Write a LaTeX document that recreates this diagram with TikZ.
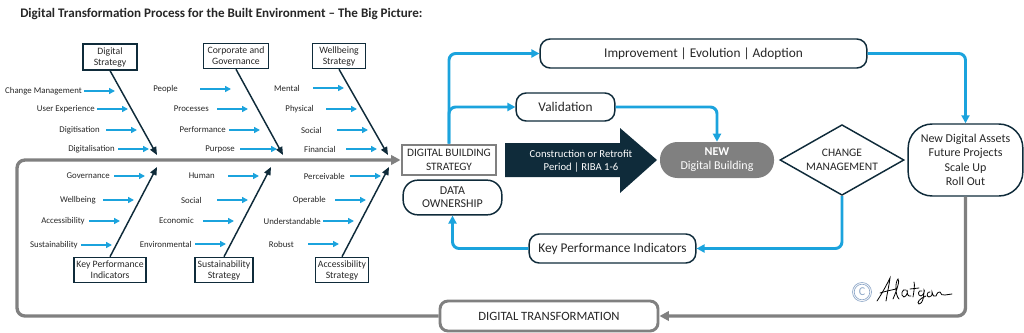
\documentclass[tikz,border=0pt]{standalone}
\usepackage{fontspec}
\setmainfont{Carlito}
\usetikzlibrary{arrows.meta,shapes.geometric,calc}
\definecolor{bl}{HTML}{1BA3DD}
\definecolor{nv}{HTML}{0F2B3A}
\definecolor{gr}{HTML}{808080}
\definecolor{tx}{HTML}{262626}
\definecolor{cp}{HTML}{8FA8C8}
\begin{document}
\begin{tikzpicture}[x=0.75pt,y=-0.75pt,
  lbl/.style={font=\fontsize{6.6}{7.5}\selectfont, text=tx, inner sep=0pt, anchor=east},
  barrow/.style={draw=bl, line width=1.5pt, -{Triangle[length=4.5pt,width=4.5pt]}},
  darrow/.style={draw=nv, line width=1.1pt, -{Triangle[length=6pt,width=5pt]}},
  fbox/.style={draw=nv, line width=0.9pt, font=\fontsize{7.3}{8.2}\selectfont, text=tx, align=center, inner sep=0pt, minimum height=19pt},
  rbox/.style={draw=nv, line width=1.1pt, rounded corners=7.5pt, text=tx, align=center, inner sep=0pt, font=\fontsize{10}{12}\selectfont},
  gbox/.style={draw=gr, line width=2.2pt, text=tx, align=center, inner sep=0pt},
  bline/.style={draw=bl, line width=2.2pt, rounded corners=5pt, -{Triangle[length=6pt,width=6pt]}},
  gline/.style={draw=gr, line width=2.5pt, rounded corners=6pt, -{Triangle[length=7pt,width=7pt]}}
]
\useasboundingbox (0,0) rectangle (1024,332);

% title
\node[anchor=west, inner sep=0pt, font=\fontsize{9.8}{10}\bfseries, text=tx] (title) at (20,14)
  {Digital Transformation Process for the Built Environment -- The Big Picture:};

% fishbone boxes
\node[fbox, minimum width=40.5pt, minimum height=19.5pt] (ds) at (110,57) {Digital\\Strategy};
\node[fbox, minimum width=48.75pt] (cg) at (236,56) {Corporate and\\Governance};
\node[fbox, minimum width=39.75pt] (ws) at (339,56) {Wellbeing\\Strategy};
\node[fbox, minimum width=54pt] (kpif) at (110,270) {Key Performance\\Indicators};
\node[fbox, minimum width=43.5pt] (ss) at (224,270) {Sustainability\\Strategy};
\node[fbox, minimum width=39.75pt] (as) at (342,270) {Accessibility\\Strategy};

% diagonal bones
\coordinate (dse) at (157,155);
\coordinate (cge) at (283,155);
\coordinate (wse) at (388,155);
\coordinate (kpe) at (157,167);
\coordinate (sse) at (271,167);
\coordinate (ase) at (389,167);
\draw[darrow] (ds.south) -- (dse);
\draw[darrow] (cg.south) -- (cge);
\draw[darrow] (ws.south) -- (wse);
\draw[darrow] (kpif.north) -- (kpe);
\draw[darrow] (ss.north) -- (sse);
\draw[darrow] (as.north) -- (ase);

% small labelled arrows
\foreach \n/\t/\tx/\ax/\bx/\y in {
  1/Change Management/82/84/115/91,
  2/User Experience/95/97/128/109,
  3/Digitisation/100/106/137/130,
  4/Digitalisation/115/118/149/149,
  5/People/178/200/231/89,
  6/Processes/209/217/248/109,
  7/Performance/226/229/260/130,
  8/Purpose/235/240/277/149,
  9/Mental/300/313/344/88,
  10/Physical/314/326/357/109,
  11/Social/322/337/368/130,
  12/Financial/336/346/377/149,
  13/Governance/110/114/145/176,
  14/Wellbeing/96/103/134/200,
  15/Accessibility/85/89/120/221,
  16/Sustainability/78/81/112/245,
  17/Human/215/228/259/176,
  18/Social/202/217/248/200,
  19/Economic/194/203/234/221,
  20/Environmental/192/195/226/244,
  21/Perceivable/345/350/381/176,
  22/Operable/326/335/366/200,
  23/Understandable/321/323/354/221,
  24/Robust/294/308/339/244}{
  \node[lbl] (lab\n) at (\tx,\y) {\t};
  \coordinate (as\n) at (\ax,\y);
  \coordinate (ae\n) at (\bx,\y);
  \draw[barrow] (as\n) -- (ae\n);
}

% main nodes
\node[gbox, minimum width=70.5pt, minimum height=22.5pt, font=\fontsize{8.5}{10}\selectfont] (dbs) at (449,160) {DIGITAL BUILDING\\STRATEGY};
\node[rbox, rounded corners=11pt, minimum width=74pt, minimum height=26pt, font=\fontsize{9}{10}\selectfont] (do) at (452.5,197.5) {DATA\\OWNERSHIP};
\node[rbox, minimum width=245pt, minimum height=21.75pt] (imp) at (703.5,53.5) {Improvement \textbar{} Evolution \textbar{} Adoption};
\node[rbox, minimum width=74pt, minimum height=21pt] (val) at (565.5,107) {Validation};
\node[rbox, minimum width=125pt, minimum height=21.75pt] (kpi) at (612.5,248.5) {Key Performance Indicators};
\node[rbox, rounded corners=18pt, minimum width=86pt, minimum height=54pt, font=\fontsize{9}{10.7}\selectfont] (nda) at (965.5,160) {New Digital Assets\\Future Projects\\Scale Up\\Roll Out};
\node[draw=none, fill=gr, rounded corners=13pt, minimum width=85.5pt, minimum height=27pt, inner sep=0pt, text=white, align=center, font=\fontsize{9}{10.5}\selectfont] (new) at (717,160) {\textbf{NEW}\\Digital Building};
\node[diamond, draw=nv, line width=1.1pt, aspect=1.75, inner sep=0pt, minimum width=93pt, minimum height=53pt, text=tx, align=center, font=\fontsize{8.6}{10.5}\selectfont] (cm) at (842,160) {CHANGE\\MANAGEMENT};
\node[gbox, rounded corners=6pt, minimum width=163.5pt, minimum height=22.5pt, font=\fontsize{9.5}{11}\selectfont] (dt) at (549,316) {DIGITAL TRANSFORMATION};

% big arrow
\fill[nv] (505,143) -- (620,143) -- (620,128) -- (657,160) -- (620,193) -- (620,177) -- (505,177) -- cycle;
\node[text=white, align=center, inner sep=0pt, font=\fontsize{8}{9.75}\selectfont] (cons) at (581,161) {Construction or Retrofit\\Period \textbar{} RIBA 1-6};

% blue connectors
\draw[bline] (dbs.north) |- (imp.west);
\draw[bline] (dbs.north) |- (val.west);
\draw[bline] (val.east) -| (new.north);
\draw[bline] (imp.east) -| (nda.north);
\draw[bline] (cm.south) |- (kpi.east);
\draw[bline] (kpi.west) -| (do.south);

% grey loop
\coordinate (lc) at (17,240);
\draw[gline] (dt.west) -| (lc) |- (dbs.west);
\draw[gline] (nda.south) |- (dt.east);

% copyright and signature
\draw[cp, line width=0.5pt] (862,292) circle (9.5);
\draw[cp, line width=0.5pt] (862,292) circle (7.8);
\node[text=cp, inner sep=0pt, font=\fontsize{9}{9}\selectfont] (cpc) at (862,292) {C};
\begin{scope}[line width=0.6pt, draw=black, line cap=round]
\draw (877,301) .. controls (883,292) and (888,282) .. (890,278) .. controls (889,286) and (887,294) .. (886,301);
\draw (880,293) .. controls (886,291) and (892,290) .. (896,289);
\draw (893,299) .. controls (897,290) and (900,280) .. (898,279) .. controls (895,282) and (895,295) .. (899,299);
\draw (906,290) .. controls (902,288) and (900,296) .. (904,297) .. controls (907,296) and (908,292) .. (907,290) .. controls (907,294) and (908,297) .. (911,296);
\draw (913,297) .. controls (914,291) and (915,285) .. (914,282);
\draw (910,289) -- (919,288);
\draw (922,291) .. controls (918,289) and (917,296) .. (921,296) .. controls (924,295) and (925,290) .. (924,290) .. controls (924,296) and (923,304) .. (919,304) .. controls (916,303) and (920,298) .. (926,296);
\draw (930,292) .. controls (927,291) and (926,297) .. (929,297) .. controls (932,296) .. (932,292) .. controls (933,296) and (934,297) .. (936,296) .. controls (937,293) and (939,291) .. (940,292) .. controls (941,294) and (942,296) .. (945,295) -- (952,294);
\end{scope}
\end{tikzpicture}
\end{document}
